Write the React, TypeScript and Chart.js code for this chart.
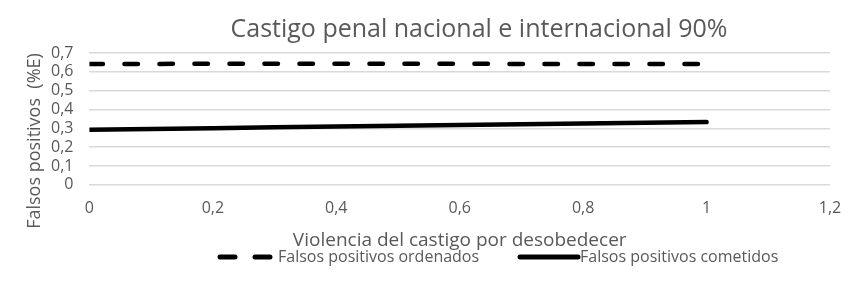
import React, { useEffect, useRef } from "react";
import { Chart, registerables } from "chart.js";

Chart.register(...registerables);

const xValues = [0, 0.1, 0.2, 0.3, 0.4, 0.5, 0.6, 0.7, 0.8, 0.9, 1];
const ordenados = [0.642, 0.642, 0.643, 0.643, 0.643, 0.643, 0.643, 0.642, 0.642, 0.641, 0.641];
const cometidos = [0.293, 0.297, 0.301, 0.305, 0.309, 0.313, 0.317, 0.321, 0.325, 0.329, 0.333];
const seriesLabels = ["Falsos positivos ordenados", "Falsos positivos cometidos"];
const titleText = "Castigo penal nacional e internacional 90%";
const xTitle = "Violencia del castigo por desobedecer";
const yTitle = "Falsos positivos  (%E)";

const FONT = "'Open Sans', sans-serif";
const GRAY = "#595959";
const fmt = (v: any) => String(Math.round(Number(v) * 10) / 10).replace(".", ",");

const overlayPlugin = {
  id: "overlay",
  afterDraw(chart: any) {
    const ctx = chart.ctx;
    ctx.save();
    // title
    ctx.fillStyle = GRAY;
    ctx.font = `25px ${FONT}`;
    ctx.textAlign = "center";
    ctx.textBaseline = "middle";
    ctx.fillText(titleText, 479, 30);
    // y axis title
    ctx.save();
    ctx.translate(35, 141);
    ctx.rotate(-Math.PI / 2);
    ctx.font = `18px ${FONT}`;
    ctx.fillText(yTitle, 0, 0);
    ctx.restore();
    // legend
    const y = 257;
    const ds = chart.data.datasets;
    ctx.font = `16px ${FONT}`;
    ctx.textAlign = "left";
    ctx.strokeStyle = "#000";
    ctx.lineWidth = 5;
    ctx.lineCap = "round";
    // item 1 (dashed)
    ctx.setLineDash([15, 20]);
    ctx.beginPath();
    ctx.moveTo(220, y);
    ctx.lineTo(272, y);
    ctx.stroke();
    ctx.setLineDash([]);
    ctx.fillText(ds[0].label, 278, y);
    // item 2 (solid)
    ctx.beginPath();
    ctx.moveTo(520, y);
    ctx.lineTo(578, y);
    ctx.stroke();
    ctx.fillText(ds[1].label, 580, y);
    ctx.restore();
  },
};

export default function App() {
  const ref = useRef<HTMLCanvasElement | null>(null);
  useEffect(() => {
    const ctx = ref.current!;
    const chart = new Chart(ctx, {
      type: "line",
      data: {
        datasets: [
          {
            label: seriesLabels[0],
            data: xValues.map((x, i) => ({ x, y: ordenados[i] })),
            borderColor: "#000",
            backgroundColor: "#000",
            borderWidth: 4.5,
            borderDash: [13.5, 21.5],
            borderCapStyle: "round",
            pointRadius: 0,
          },
          {
            label: seriesLabels[1],
            data: xValues.map((x, i) => ({ x, y: cometidos[i] })),
            borderColor: "#000",
            backgroundColor: "#000",
            borderWidth: 4.5,
            borderCapStyle: "round",
            pointRadius: 0,
          },
        ],
      },
      options: {
        animation: false,
        responsive: false,
        maintainAspectRatio: false,
        layout: { padding: { left: 35, right: 27, top: 53, bottom: 42 } },
        plugins: {
          title: { display: false },
          legend: { display: false },
          tooltip: { enabled: false },
        },
        scales: {
          x: {
            type: "linear",
            min: 0,
            max: 1.2,
            ticks: {
              stepSize: 0.2,
              color: GRAY,
              font: { family: FONT, size: 16 },
              padding: 14,
              callback: fmt,
            },
            grid: { display: false, drawTicks: false },
            border: { display: false },
            title: {
              display: true,
              text: xTitle,
              color: GRAY,
              font: { family: FONT, size: 19, lineHeight: 1 },
              padding: { top: -1, bottom: 1 },
            },
          },
          y: {
            min: 0,
            max: 0.7,
            ticks: {
              stepSize: 0.1,
              autoSkip: false,
              color: GRAY,
              font: { family: FONT, size: 16 },
              padding: 16,
              callback: fmt,
            },
            grid: { color: "#d9d9d9", lineWidth: 1.5, drawTicks: false },
            border: { display: false },
            title: { display: false },
          },
        },
      },
      plugins: [overlayPlugin],
    });
    return () => chart.destroy();
  }, []);
  return (
    <div style={{ position: "fixed", left: 0, top: 0, width: 857, height: 293, background: "#fff" }}>
      <canvas ref={ref} width={857} height={293} />
    </div>
  );
}
